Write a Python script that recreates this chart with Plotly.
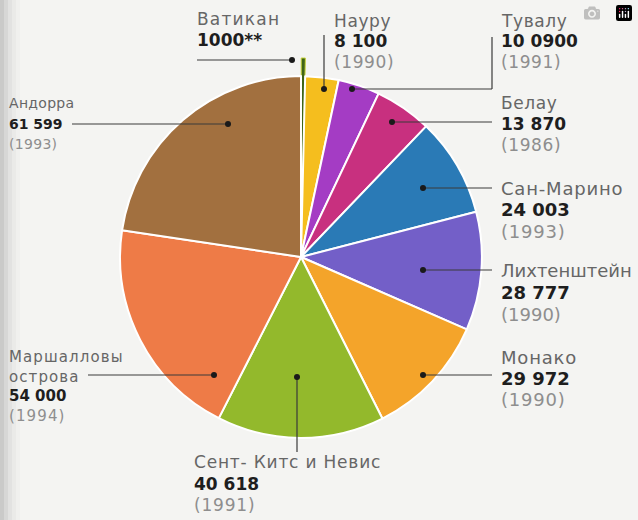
import plotly.graph_objects as go

# ---- data ----
countries = ["Ватикан", "Науру", "Тувалу", "Белау", "Сан-Марино", "Лихтенштейн",
             "Монако", "Сент- Китс и Невис", "Маршалловы острова", "Андорра"]
name_lines = [["Ватикан"], ["Науру"], ["Тувалу"], ["Белау"], ["Сан-Марино"],
              ["Лихтенштейн"], ["Монако"], ["Сент- Китс и Невис"],
              ["Маршалловы", "острова"], ["Андорра"]]
values = [1000, 8100, 10090, 13870, 24003, 28777, 29972, 40618, 54000, 61599]
value_labels = ["1000**", "8 100", "10 0900", "13 870", "24 003", "28 777",
                "29 972", "40 618", "54 000", "61 599"]
years = ["", "(1990)", "(1991)", "(1986)", "(1993)", "(1990)", "(1990)",
         "(1991)", "(1994)", "(1993)"]

# ---- style ----
colors = ["#3F6418", "#F5BE1E", "#A43CC4", "#C8307F", "#2A7AB6", "#735FC8",
          "#F4A42A", "#93B92C", "#EE7B47", "#A2703F"]
edge_colors = ["#C9D43A"] + ["#FFFFFF"] * 9
edge_widths = [1] + [2] * 9
pulls = [0.1] + [0] * 9

W, H = 638, 520
def px(x):
    return x / W
def py(y):
    return 1 - y / H

# pie geometry in pixels (center and outer radius incl. pull)
cx, cy, rr = 301, 257, 199

# label layout: text left x, first line centre y, line step, font size, letter spacing
label_pos = [
    (196, 19, 21, 17, 1.2),
    (333, 21, 20.5, 17, 0.6),
    (500, 21, 20.5, 17, 0.6),
    (500, 103, 21, 17, 0.6),
    (500, 188, 21.5, 18, 0.8),
    (500, 270, 22, 18, 0.0),
    (500, 357, 21, 18, 0.8),
    (193, 462, 21.5, 17, 0.8),
    (8, 357, 19.5, 15, 1.1),
    (8, 103, 20.5, 14, 0.3),
]
# leader polylines (pixels); last point gets the dot
leaders = [
    [(197, 60), (292, 60)],
    [(324, 35), (324, 89)],
    [(492, 37), (492, 89), (352, 89)],
    [(492, 122), (392, 122)],
    [(492, 188), (423, 188)],
    [(492, 270), (423, 270)],
    [(492, 375), (423, 375)],
    [(297, 452), (297, 377)],
    [(88, 375), (214, 375)],
    [(72, 124), (228, 124)],
]

fig = go.Figure(go.Pie(
    labels=countries,
    values=values,
    sort=False,
    direction="clockwise",
    rotation=0,
    pull=pulls,
    textinfo="none",
    hoverinfo="label+value",
    marker=dict(colors=colors, line=dict(color=edge_colors, width=edge_widths)),
    domain=dict(x=[px(cx - rr), px(cx + rr)], y=[py(cy + rr), py(cy - rr)]),
    showlegend=False,
))

FONT = "DejaVu Sans"
annotations = []
shapes = []

# faint page shading at the left edge
for k, op in enumerate([0.16, 0.12, 0.08, 0.05, 0.03]):
    shapes.append(dict(type="rect", xref="paper", yref="paper", layer="below",
                       x0=0, x1=px(4 * (k + 1)), y0=0, y1=1,
                       fillcolor="#888888", opacity=op, line=dict(width=0)))

for i in range(len(countries)):
    x, y0, dy, fs, ls = label_pos[i]
    lines = []
    for nm in name_lines[i]:
        lines.append((f'<span style="letter-spacing:{ls}px">{nm}</span>', "#666666", fs))
    lines.append((f"<b>{value_labels[i]}</b>", "#1E1E1E", fs))
    if years[i]:
        lines.append((f'<span style="letter-spacing:{ls}px">{years[i]}</span>', "#8E8E8E", fs))
    for j, (txt, col, size) in enumerate(lines):
        annotations.append(dict(
            x=px(x), y=py(y0 + j * dy), xref="paper", yref="paper",
            xanchor="left", yanchor="middle", showarrow=False, borderpad=0,
            text=txt, font=dict(family=FONT, size=size, color=col),
        ))
    pts = leaders[i]
    for (xa, ya), (xb, yb) in zip(pts[:-1], pts[1:]):
        shapes.append(dict(type="line", xref="paper", yref="paper",
                           x0=px(xa), y0=py(ya), x1=px(xb), y1=py(yb),
                           line=dict(color="#3A3A3A", width=1.2)))
    dx, dyy = pts[-1]
    shapes.append(dict(type="circle", xref="paper", yref="paper",
                       x0=px(dx - 3), x1=px(dx + 3), y0=py(dyy + 3), y1=py(dyy - 3),
                       fillcolor="#1A1A1A", line=dict(width=0)))

fig.update_layout(
    width=W, height=H,
    margin=dict(l=0, r=0, t=0, b=0),
    paper_bgcolor="#F4F4F2",
    plot_bgcolor="#F4F4F2",
    annotations=annotations,
    shapes=shapes,
)

fig.write_html("out.html", post_script="document.body.style.margin='0';")
